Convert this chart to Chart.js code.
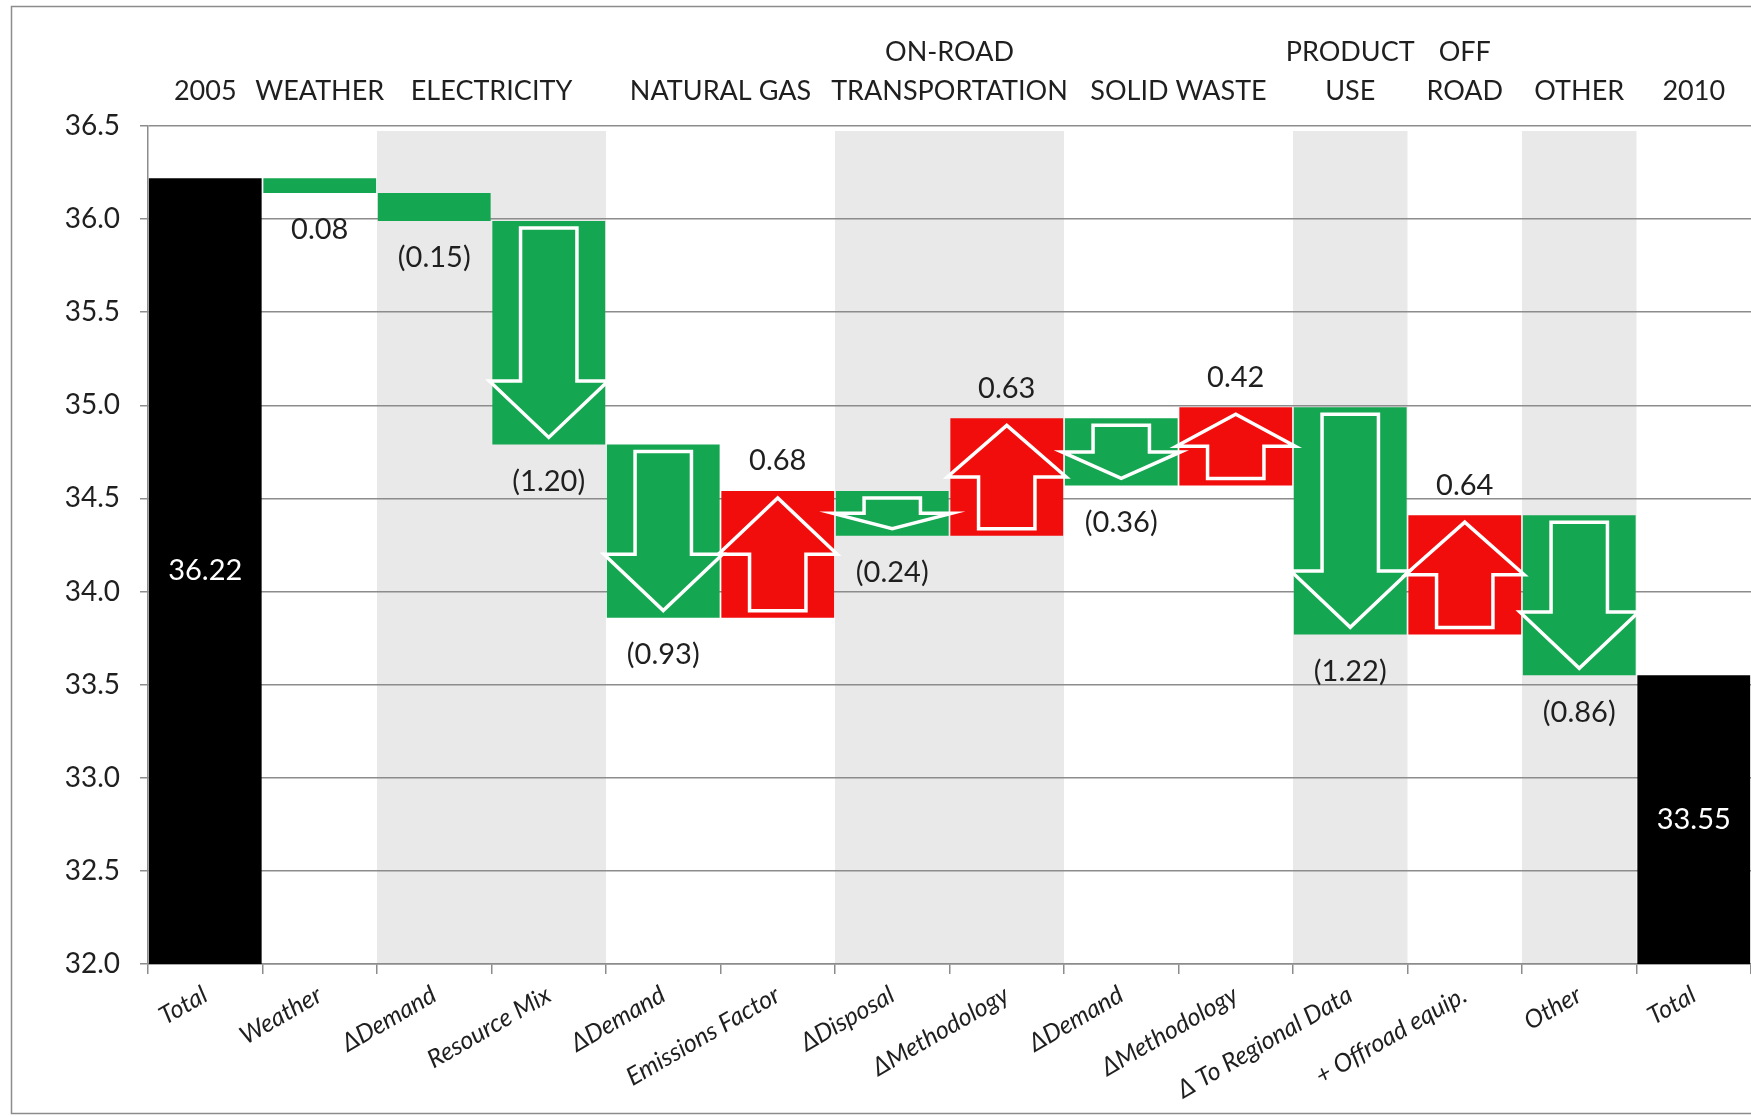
<!DOCTYPE html>
<html lang="en">
<head>
  <meta charset="UTF-8">
  <title>Emissions Bridge 2005 - 2010</title>
  <script src="https://cdn.jsdelivr.net/npm/chart.js"></script>
  <style>
    body { margin: 0; background: #fff; }
  </style>
</head>
<body>

<canvas id="bridgeChart" width="1751" height="1117"></canvas>

<script>
  // values
  const categories = ['Total', 'Weather', 'ΔDemand', 'Resource Mix', 'ΔDemand', 'Emissions Factor',
    'ΔDisposal', 'ΔMethodology', 'ΔDemand', 'ΔMethodology', 'Δ To Regional Data', '+ Offroad equip.',
    'Other', 'Total'];
  const startTotal = 36.22;
  const changes = [-0.08, -0.15, -1.20, -0.93, 0.68, -0.24, 0.63, -0.36, 0.42, -1.22, 0.64, -0.86];
  const endTotal = 33.55;
  const valueLabels = ['36.22', '0.08', '(0.15)', '(1.20)', '(0.93)', '0.68', '(0.24)', '0.63',
    '(0.36)', '0.42', '(1.22)', '0.64', '(0.86)', '33.55'];
  const yMin = 32.0;
  const yMax = 36.5;
  const yStep = 0.5;

  // sector headings over the plot and the columns they cover
  const groupTitles = [['2005'], ['WEATHER'], ['ELECTRICITY'], ['NATURAL GAS'], ['ON-ROAD', 'TRANSPORTATION'],
    ['SOLID WASTE'], ['PRODUCT', 'USE'], ['OFF', 'ROAD'], ['OTHER'], ['2010']];
  const groupSpans = [[0, 0], [1, 1], [2, 3], [4, 5], [6, 7], [8, 9], [10, 10], [11, 11], [12, 12], [13, 13]];
  const shadedGroups = [2, 4, 6, 8];

  const GREEN = '#14a651';
  const RED = '#f20d0d';
  const TEXT = '#1f1f1f';

  // floating bars: totals from the axis floor, changes from the running level
  const bars = [[yMin, startTotal]];
  const kinds = ['total'];
  let level = startTotal;
  changes.forEach(c => {
    const next = +(level + c).toFixed(2);
    bars.push([level, next]);
    kinds.push(c < 0 ? 'down' : 'up');
    level = next;
  });
  bars.push([yMin, endTotal]);
  kinds.push('total');

  const barColors = kinds.map(k => k === 'total' ? '#000000' : (k === 'down' ? GREEN : RED));

  const backdrop = {
    id: 'backdrop',
    beforeDraw(chart) {
      const { ctx, chartArea, scales } = chart;
      const x = scales.x;
      const half = (x.getPixelForValue(1) - x.getPixelForValue(0)) / 2;
      ctx.save();
      ctx.fillStyle = '#fff';
      ctx.fillRect(0, 0, chart.width, chart.height);
      ctx.fillStyle = '#e9e9e9';
      shadedGroups.forEach(g => {
        const [a, b] = groupSpans[g];
        const left = x.getPixelForValue(a) - half;
        const right = x.getPixelForValue(b) + half;
        ctx.fillRect(left, chartArea.top + 5, right - left, chartArea.bottom - chartArea.top - 5);
      });
      ctx.strokeStyle = '#8c8c8c';
      ctx.lineWidth = 1.5;
      ctx.strokeRect(11.5, 6.5, chart.width + 20, chart.height - 10);
      ctx.restore();
    },
    afterDraw(chart) {
      const { ctx, scales } = chart;
      const x = scales.x;
      ctx.save();
      ctx.fillStyle = TEXT;
      ctx.font = '27px Lato';
      ctx.textAlign = 'center';
      ctx.textBaseline = 'middle';
      groupTitles.forEach((lines, g) => {
        const [a, b] = groupSpans[g];
        const cx = (x.getPixelForValue(a) + x.getPixelForValue(b)) / 2;
        if (lines.length === 1) {
          ctx.fillText(lines[0], cx, 91);
        } else {
          ctx.fillText(lines[0], cx, 52);
          ctx.fillText(lines[1], cx, 91);
        }
      });
      ctx.restore();
    }
  };

  const arrowsAndLabels = {
    id: 'arrowsAndLabels',
    afterDatasetsDraw(chart) {
      const { ctx } = chart;
      const meta = chart.getDatasetMeta(0);
      ctx.save();
      meta.data.forEach((bar, i) => {
        const { x, y, base, width } = bar.getProps(['x', 'y', 'base', 'width'], true);
        const top = Math.min(y, base);
        const bottom = Math.max(y, base);
        const h = bottom - top;
        const kind = kinds[i];

        if (kind !== 'total' && h > 32) {
          const m = 7;
          const hh = Math.min(0.5 * width, 0.5 * (h - 2 * m));
          const sw = width * 0.25;
          const hw = width * 0.5 + 3;
          const t = top + m;
          const b = bottom - m;
          ctx.beginPath();
          if (kind === 'down') {
            const hb = b - hh;
            ctx.moveTo(x - sw, t);
            ctx.lineTo(x + sw, t);
            ctx.lineTo(x + sw, hb);
            ctx.lineTo(x + hw, hb);
            ctx.lineTo(x, b);
            ctx.lineTo(x - hw, hb);
            ctx.lineTo(x - sw, hb);
          } else {
            const hb = t + hh;
            ctx.moveTo(x - sw, b);
            ctx.lineTo(x + sw, b);
            ctx.lineTo(x + sw, hb);
            ctx.lineTo(x + hw, hb);
            ctx.lineTo(x, t);
            ctx.lineTo(x - hw, hb);
            ctx.lineTo(x - sw, hb);
          }
          ctx.closePath();
          ctx.strokeStyle = '#ffffff';
          ctx.lineWidth = 3.5;
          ctx.lineJoin = 'miter';
          ctx.stroke();
        }

        ctx.font = '29px Lato';
        ctx.textAlign = 'center';
        ctx.textBaseline = 'middle';
        if (kind === 'total') {
          ctx.fillStyle = '#ffffff';
          ctx.fillText(valueLabels[i], x, (top + bottom) / 2);
        } else if (kind === 'down') {
          ctx.fillStyle = TEXT;
          ctx.fillText(valueLabels[i], x, bottom + 37);
        } else {
          ctx.fillStyle = TEXT;
          ctx.fillText(valueLabels[i], x, top - 30);
        }
      });
      ctx.restore();
    }
  };

  const ctx = document.getElementById('bridgeChart').getContext('2d');

  new Chart(ctx, {
    type: 'bar',
    data: {
      labels: categories,
      datasets: [{
        data: bars,
        backgroundColor: barColors,
        barPercentage: 0.985,
        categoryPercentage: 1.0,
        borderSkipped: false
      }]
    },
    options: {
      responsive: false,
      animation: false,
      layout: { padding: { top: 126, left: 0, right: 0, bottom: 0 } },
      plugins: {
        legend: { display: false },
        tooltip: { enabled: false }
      },
      scales: {
        x: {
          grid: {
            offset: true,
            drawOnChartArea: false,
            drawTicks: true,
            tickLength: 10,
            color: '#8c8c8c',
            lineWidth: 1.5
          },
          border: { color: '#8c8c8c', width: 1.5 },
          ticks: {
            minRotation: 30,
            maxRotation: 30,
            autoSkip: false,
            padding: 6,
            color: TEXT,
            font: { family: 'Lato', size: 25, style: 'italic' }
          },
          afterFit(scale) {
            scale.height = 153;
            scale.paddingLeft = 0;
            scale.paddingRight = 0;
          }
        },
        y: {
          min: yMin,
          max: yMax,
          grid: {
            color: '#8c8c8c',
            lineWidth: 1.5,
            tickLength: 8
          },
          border: { color: '#8c8c8c', width: 1.5 },
          ticks: {
            stepSize: yStep,
            padding: 20,
            color: TEXT,
            font: { family: 'Lato', size: 28 },
            callback: v => v.toFixed(1)
          },
          afterFit(scale) {
            scale.width = 148;
          }
        }
      }
    },
    plugins: [backdrop, arrowsAndLabels]
  });
</script>

</body>
</html>
